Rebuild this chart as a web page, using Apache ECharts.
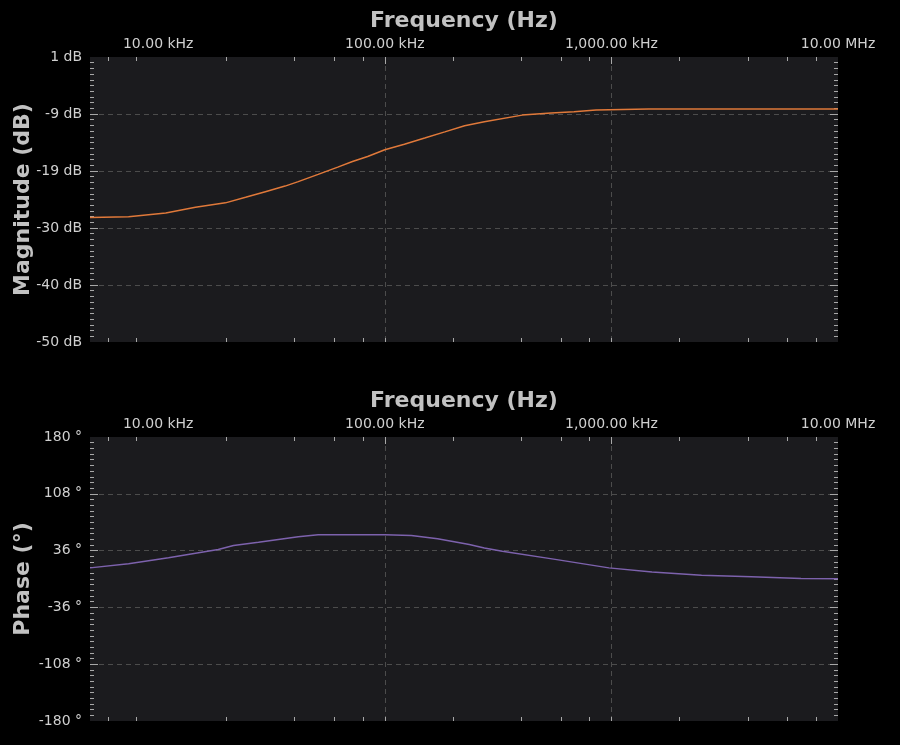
<!DOCTYPE html>
<html><head><meta charset="utf-8">
<script src="https://cdn.jsdelivr.net/npm/echarts@6/dist/echarts.min.js"></script>
<style>html,body{margin:0;padding:0;background:#000;}#c{width:900px;height:745px;}</style>
</head><body><div id="c"></div><script>
// ---- data ----
var magFreq = [5000, 7400, 10800, 14600, 19800, 24300, 29700, 36300, 41500, 50800, 62000, 72000, 84000, 100000, 122000, 150000, 184000, 225000, 275000, 404000, 542000, 684000, 855000, 1460000, 10000000];
var magDb = [-27.7, -27.6, -26.9, -25.9, -25.1, -24.1, -23.1, -22.1, -21.3, -20.0, -18.7, -17.7, -16.8, -15.6, -14.6, -13.5, -12.4, -11.3, -10.6, -9.4, -9.0, -8.8, -8.5, -8.3, -8.3];
var phaseFreq = [5000, 7400, 11100, 18400, 21500, 27700, 41500, 50800, 100000, 131000, 171000, 236000, 275000, 330000, 547000, 975000, 1510000, 2500000, 4150000, 6870000, 10000000];
var phaseDeg = [14.1, 19.4, 26.8, 37.3, 42.5, 46.5, 53.5, 56.0, 56.2, 55.0, 51.0, 43.6, 39.4, 35.1, 25.5, 14.1, 9.0, 4.8, 2.8, 0.6, 0.3];

var freqLabelTicks = [1e4, 1e5, 1e6, 1e7];
var freqGridTicks = [1e5, 1e6];
var freqMinorTicks = [6000, 8000, 20000, 40000, 60000, 80000, 200000, 400000, 600000, 800000, 2e6, 4e6, 6e6, 8e6];
var magTicks = [1, -9.2, -19.4, -29.6, -39.8, -50];
var phaseTicks = [180, 108, 36, -36, -108, -180];

var FONT = 'DejaVu Sans';
var LABEL_C = '#d0d0d0', TITLE_C = '#c2c2c2', TICK_C = '#a8a8a8', GRID_C = '#4c4c4c';

function freqFmt(v) {
  if (v >= 1e7 - 1) return (v / 1e6).toFixed(2) + ' MHz';
  return (v / 1e3).toLocaleString('en-US', {minimumFractionDigits: 2, maximumFractionDigits: 2}) + ' kHz';
}
function minorVals(ticks) {
  var a = ticks[0], b = ticks[ticks.length - 1], out = [];
  for (var k = 1; k < 50; k++) out.push(a + (b - a) * k / 50);
  return out;
}

function xAxes(g) {
  var base = {type: 'log', logBase: 10, gridIndex: g, min: 5000, max: 1e7, axisLine: {show: false, onZero: false}};
  return [
    Object.assign({}, base, {
      position: 'top',
      name: 'Frequency (Hz)', nameLocation: 'middle', nameGap: 25,
      nameTextStyle: {color: TITLE_C, fontFamily: FONT, fontWeight: 'bold', fontSize: 22},
      axisTick: {show: true, inside: true, length: 7, customValues: freqGridTicks, lineStyle: {color: TICK_C}},
      axisLabel: {show: true, customValues: freqLabelTicks, formatter: freqFmt, color: LABEL_C, fontFamily: FONT, fontSize: 14, margin: 6, hideOverlap: false, showMinLabel: true, showMaxLabel: true},
      splitLine: {show: true, lineStyle: {color: GRID_C, type: [5, 4], width: 1}}
    }),
    Object.assign({}, base, {
      position: 'top',
      axisTick: {show: true, inside: true, length: 4, customValues: freqMinorTicks, lineStyle: {color: TICK_C}},
      axisLabel: {show: false}, splitLine: {show: false}
    }),
    Object.assign({}, base, {
      position: 'bottom',
      axisTick: {show: true, inside: true, length: 4, customValues: freqMinorTicks.concat(freqGridTicks), lineStyle: {color: TICK_C}},
      axisLabel: {show: false}, splitLine: {show: false}
    })
  ];
}

function yAxes(g, ticks, name, unit) {
  var mn = ticks[ticks.length - 1], mx = ticks[0];
  var inner = ticks.slice(1, ticks.length - 1);
  var base = {type: 'value', gridIndex: g, min: mn, max: mx, axisLine: {show: false, onZero: false}};
  var minor = minorVals(ticks);
  return [
    Object.assign({}, base, {
      position: 'left',
      name: name, nameLocation: 'middle', nameGap: 56, nameMoveOverlap: false,
      nameTextStyle: {color: TITLE_C, fontFamily: FONT, fontWeight: 'bold', fontSize: 22},
      axisTick: {show: true, inside: true, length: 8, customValues: inner, lineStyle: {color: TICK_C}},
      axisLabel: {show: true, customValues: ticks, formatter: function (v) { return Math.round(v) + unit; },
        color: LABEL_C, fontFamily: FONT, fontSize: 14, margin: 8},
      splitLine: {show: true, lineStyle: {color: GRID_C, type: [5, 4], width: 1}}
    }),
    Object.assign({}, base, {
      position: 'left',
      axisTick: {show: true, inside: true, length: 4, customValues: minor, lineStyle: {color: TICK_C}},
      axisLabel: {show: false}, splitLine: {show: false}
    }),
    Object.assign({}, base, {
      position: 'right',
      axisTick: {show: true, inside: true, length: 8, customValues: inner, lineStyle: {color: TICK_C}},
      axisLabel: {show: false}, splitLine: {show: false}
    }),
    Object.assign({}, base, {
      position: 'right',
      axisTick: {show: true, inside: true, length: 4, customValues: minor, lineStyle: {color: TICK_C}},
      axisLabel: {show: false}, splitLine: {show: false}
    })
  ];
}

function pairs(xs, ys) { return xs.map(function (x, i) { return [x, ys[i]]; }); }

var chart = echarts.init(document.getElementById('c'), null, {renderer: 'canvas'});
chart.setOption({
  backgroundColor: '#000000',
  animation: false,
  grid: [
    {left: 90, right: 62, top: 57, height: 285, show: true, backgroundColor: '#1b1b1e', borderWidth: 0, containLabel: false, outerBoundsMode: 'none'},
    {left: 90, right: 62, top: 437, height: 284, show: true, backgroundColor: '#1b1b1e', borderWidth: 0, containLabel: false, outerBoundsMode: 'none'}
  ],
  xAxis: xAxes(0).concat(xAxes(1)),
  yAxis: yAxes(0, magTicks, 'Magnitude (dB)', ' dB').concat(yAxes(1, phaseTicks, 'Phase (°)', ' °')),
  series: [
    {type: 'line', xAxisIndex: 0, yAxisIndex: 0, data: pairs(magFreq, magDb), showSymbol: false,
      lineStyle: {color: '#e0793a', width: 1.5}, itemStyle: {color: '#e0793a'}},
    {type: 'line', xAxisIndex: 3, yAxisIndex: 4, data: pairs(phaseFreq, phaseDeg), showSymbol: false,
      lineStyle: {color: '#7d62ad', width: 1.5}, itemStyle: {color: '#7d62ad'}}
  ]
});
</script></body></html>
